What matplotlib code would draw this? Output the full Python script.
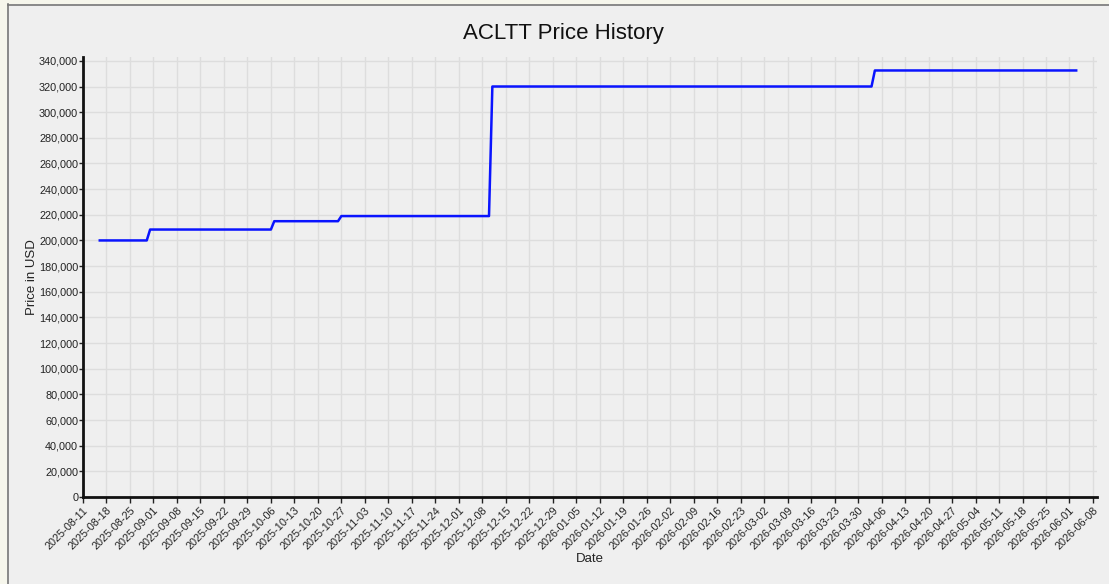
import matplotlib.pyplot as plt
import matplotlib.dates as mdates
from matplotlib.lines import Line2D
from matplotlib.patches import Rectangle
from matplotlib.ticker import FuncFormatter, MultipleLocator
import pandas as pd

plt.rcParams["font.family"] = ["Liberation Sans", "DejaVu Sans"]

# price history (step changes)
dates = [
    "2025-08-16", "2025-08-30", "2025-08-31", "2025-10-06", "2025-10-07",
    "2025-10-26", "2025-10-27", "2025-12-10", "2025-12-11", "2026-04-03",
    "2026-04-04", "2026-06-03",
]
prices = [
    200000, 200000, 208500, 208500, 215000,
    215000, 219000, 219000, 320000, 320000,
    332500, 332500,
]
tick_start = "2025-08-11"
tick_end = "2026-06-08"

BG = "#efefef"
PAGE = "#f6f6ec"
W, H = 1109, 584

fig = plt.figure(figsize=(W / 100, H / 100), dpi=100, facecolor=BG)
# page strip on the left/top with a grey frame line
fig.patches.append(Rectangle((0, 0), 7 / W, 1, transform=fig.transFigure,
                             facecolor=PAGE, edgecolor="none", zorder=-5))
fig.patches.append(Rectangle((0, 1 - 4 / H), 1, 4 / H, transform=fig.transFigure,
                             facecolor=PAGE, edgecolor="none", zorder=-5))
fig.lines.append(Line2D([7.5 / W, 7.5 / W], [0, 1 - 4 / H], transform=fig.transFigure,
                        color="#777777", linewidth=1.2))
fig.lines.append(Line2D([7.5 / W, 1], [1 - 4.5 / H, 1 - 4.5 / H], transform=fig.transFigure,
                        color="#777777", linewidth=1.2))

ax = fig.add_axes([83 / W, 1 - 497 / H, (1097 - 83) / W, (497 - 57) / H])
ax.set_facecolor(BG)

x = pd.to_datetime(dates)
ax.plot(x, prices, color="#0a14ff", linewidth=1.8)

ticks = pd.date_range(tick_start, tick_end, freq="7D")
ax.set_xticks(ticks)
ax.xaxis.set_major_formatter(mdates.DateFormatter("%Y-%m-%d"))
ax.set_xlim(ticks[0], ticks[-1] + pd.Timedelta(days=1.2))
ax.set_ylim(0, 343000)
ax.yaxis.set_major_locator(MultipleLocator(20000))
ax.yaxis.set_major_formatter(FuncFormatter(lambda v, _: f"{int(v):,}"))

plt.setp(ax.get_xticklabels(), rotation=45, ha="right", rotation_mode="anchor")
ax.tick_params(axis="both", labelsize=7.8, width=1, colors="#222222", direction="out")
ax.tick_params(axis="x", length=4, pad=2)
ax.tick_params(axis="y", length=3, pad=0.5)

ax.grid(True, color="#dddddd", linewidth=1)
ax.set_axisbelow(True)
for side in ["top", "right"]:
    ax.spines[side].set_visible(False)
for side in ["left", "bottom"]:
    ax.spines[side].set_linewidth(2)
    ax.spines[side].set_color("#111111")

ax.set_xlabel("Date", fontsize=9.5, labelpad=1, color="#222222")
ax.set_ylabel("Price in USD", fontsize=9.5, color="#222222")
ax.yaxis.set_label_coords(-45 / (1097 - 83), 0.5)
fig.text(0.508, 1 - 34 / H, "ACLTT Price History", ha="center", va="center",
         fontsize=16, color="#111111")

fig.savefig("out.png", dpi=100, facecolor=fig.get_facecolor())
